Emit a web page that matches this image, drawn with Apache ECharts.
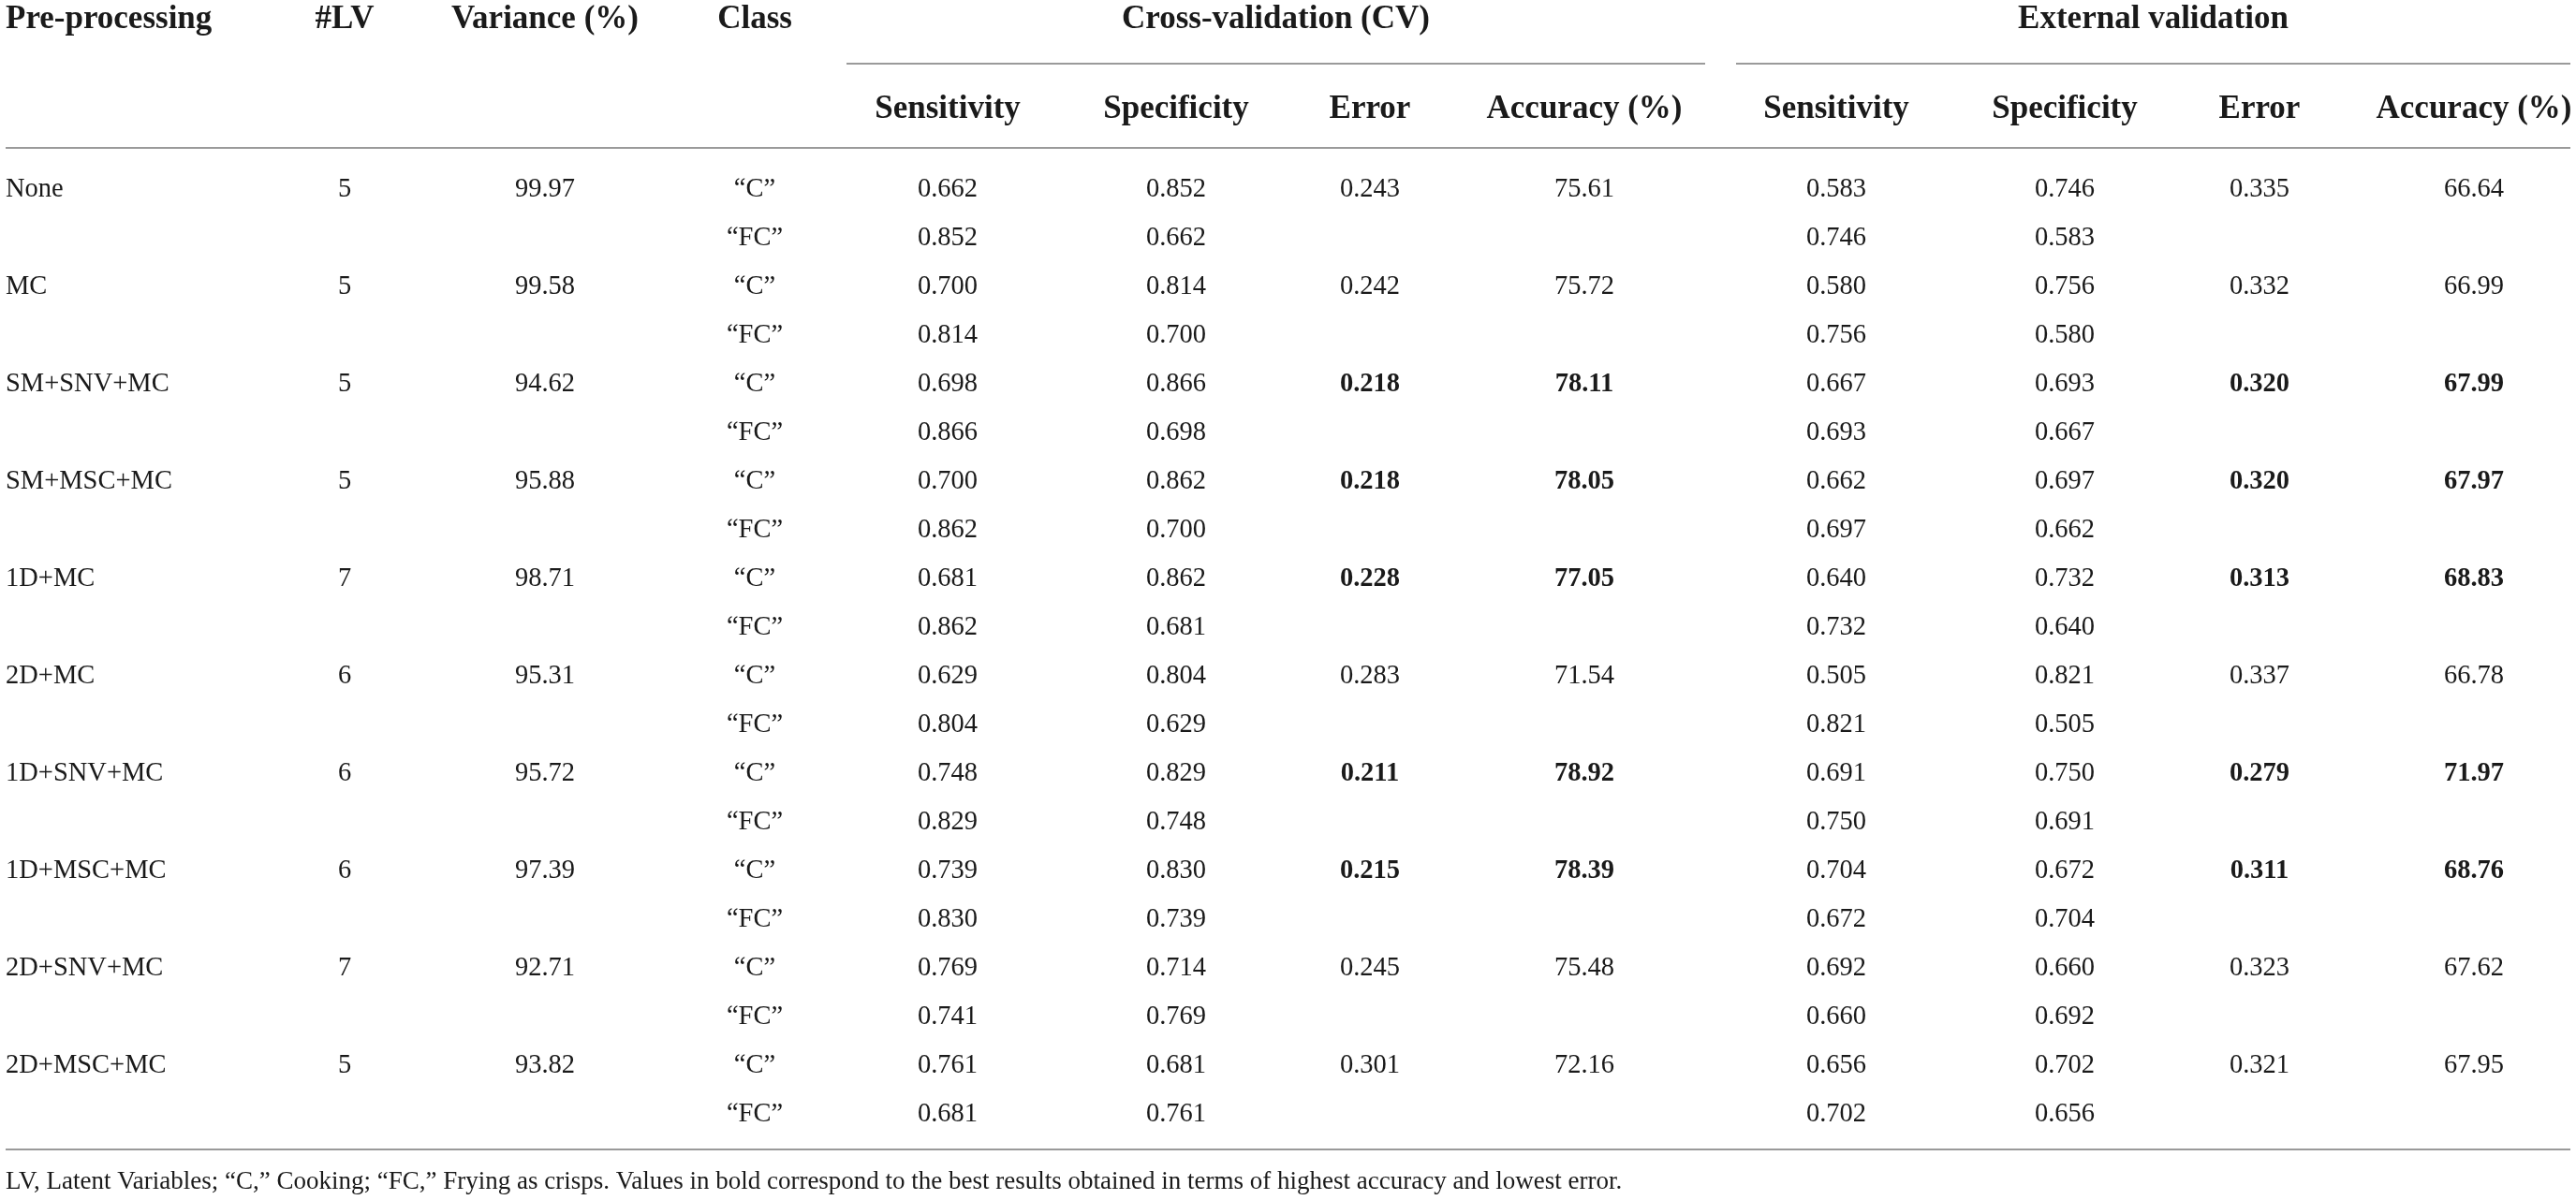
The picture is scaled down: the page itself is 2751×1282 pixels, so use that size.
<!DOCTYPE html>
<html>
<head>
<meta charset="utf-8">
<script src="https://cdn.jsdelivr.net/npm/echarts@6/dist/echarts.min.js"></script>
<style>
  html, body { margin: 0; padding: 0; background: #fff; }
  #table { width: 2751px; height: 1282px; }
</style>
</head>
<body>
<div id="table"></div>
<script>
// table values, one array per column
var preprocessing = ["None", "MC", "SM+SNV+MC", "SM+MSC+MC", "1D+MC", "2D+MC", "1D+SNV+MC", "1D+MSC+MC", "2D+SNV+MC", "2D+MSC+MC"];
var latentVars = [5, 5, 5, 5, 7, 6, 6, 6, 7, 5];
var variance = [99.97, 99.58, 94.62, 95.88, 98.71, 95.31, 95.72, 97.39, 92.71, 93.82];
var classes = ["\u201CC\u201D", "\u201CFC\u201D"];

var cvSensC = [0.662, 0.700, 0.698, 0.700, 0.681, 0.629, 0.748, 0.739, 0.769, 0.761];
var cvSpecC = [0.852, 0.814, 0.866, 0.862, 0.862, 0.804, 0.829, 0.830, 0.714, 0.681];
var cvSensFC = [0.852, 0.814, 0.866, 0.862, 0.862, 0.804, 0.829, 0.830, 0.741, 0.681];
var cvSpecFC = [0.662, 0.700, 0.698, 0.700, 0.681, 0.629, 0.748, 0.739, 0.769, 0.761];
var cvError = [0.243, 0.242, 0.218, 0.218, 0.228, 0.283, 0.211, 0.215, 0.245, 0.301];
var cvAccuracy = [75.61, 75.72, 78.11, 78.05, 77.05, 71.54, 78.92, 78.39, 75.48, 72.16];

var extSensC = [0.583, 0.580, 0.667, 0.662, 0.640, 0.505, 0.691, 0.704, 0.692, 0.656];
var extSpecC = [0.746, 0.756, 0.693, 0.697, 0.732, 0.821, 0.750, 0.672, 0.660, 0.702];
var extSensFC = [0.746, 0.756, 0.693, 0.697, 0.732, 0.821, 0.750, 0.672, 0.660, 0.702];
var extSpecFC = [0.583, 0.580, 0.667, 0.662, 0.640, 0.505, 0.691, 0.704, 0.692, 0.656];
var extError = [0.335, 0.332, 0.320, 0.320, 0.313, 0.337, 0.279, 0.311, 0.323, 0.321];
var extAccuracy = [66.64, 66.99, 67.99, 67.97, 68.83, 66.78, 71.97, 68.76, 67.62, 67.95];

// methods printed in bold (best error / accuracy)
var bestRows = [2, 3, 4, 6, 7];

var headerTop = ["Pre-processing", "#LV", "Variance (%)", "Class"];
var groupTitles = ["Cross-validation (CV)", "External validation"];
var subHeaders = ["Sensitivity", "Specificity", "Error", "Accuracy (%)"];
var footnote = "LV, Latent Variables; \u201CC,\u201D Cooking; \u201CFC,\u201D Frying as crisps. Values in bold correspond to the best results obtained in terms of highest accuracy and lowest error.";

// layout (pixels)
var W = 2751;
var colX = [6, 368, 582, 806, 1012, 1256, 1463, 1692, 1961, 2205, 2413, 2642];
var FONT = "'Liberation Serif', 'DejaVu Serif', serif";
var INK = "#1a1a1a";
var RULE = "#9a9a9a";
var dataSize = 28.5;
var noteSize = 27;
var headSize = 35;

var rowCount = preprocessing.length * 2;
var rowCats = [];
for (var r = 0; r < rowCount; r++) rowCats.push("r" + r);

function f3(v) { return v.toFixed(3); }
function f2(v) { return v.toFixed(2); }

// build cells: [columnIndex, rowIndex, text, bold]
var cells = [];
preprocessing.forEach(function (name, i) {
  var rc = i * 2, rf = i * 2 + 1;
  var bold = bestRows.indexOf(i) >= 0;
  cells.push([0, rc, name, false]);
  cells.push([1, rc, String(latentVars[i]), false]);
  cells.push([2, rc, f2(variance[i]), false]);
  cells.push([3, rc, classes[0], false]);
  cells.push([3, rf, classes[1], false]);
  cells.push([4, rc, f3(cvSensC[i]), false]);
  cells.push([5, rc, f3(cvSpecC[i]), false]);
  cells.push([4, rf, f3(cvSensFC[i]), false]);
  cells.push([5, rf, f3(cvSpecFC[i]), false]);
  cells.push([6, rc, f3(cvError[i]), bold]);
  cells.push([7, rc, f2(cvAccuracy[i]), bold]);
  cells.push([8, rc, f3(extSensC[i]), false]);
  cells.push([9, rc, f3(extSpecC[i]), false]);
  cells.push([8, rf, f3(extSensFC[i]), false]);
  cells.push([9, rf, f3(extSpecFC[i]), false]);
  cells.push([10, rc, f3(extError[i]), bold]);
  cells.push([11, rc, f2(extAccuracy[i]), bold]);
});

var seriesData = cells.map(function (c) { return [colX[c[0]], c[1]]; });

var chart = echarts.init(document.getElementById("table"));

var graphics = [];
function addText(txt, x, y, bold, size, align) {
  graphics.push({
    type: "text", x: x, y: y, silent: true,
    style: {
      text: txt, fill: INK, font: (bold ? "bold " : "") + size + "px " + FONT,
      textAlign: align || "center", textVerticalAlign: "middle"
    }
  });
}
function addRule(x1, x2, y) {
  graphics.push({
    type: "line", silent: true,
    shape: { x1: x1, y1: y, x2: x2, y2: y },
    style: { stroke: RULE, lineWidth: 2 }
  });
}

headerTop.forEach(function (h, i) {
  addText(h, colX[i], 21, true, headSize, i === 0 ? "left" : "center");
});
addText(groupTitles[0], (904 + 1821) / 2, 21, true, headSize);
addText(groupTitles[1], (1854 + 2745) / 2, 21, true, headSize);
subHeaders.forEach(function (h, i) {
  addText(h, colX[4 + i], 117, true, headSize);
  addText(h, colX[8 + i], 117, true, headSize);
});
addRule(904, 1821, 68);
addRule(1854, 2745, 68);
addRule(6, 2745, 158);
addRule(6, 2745, 1228);
addText(footnote, 6, 1263, false, noteSize, "left");

var option = {
  animation: false,
  backgroundColor: "#ffffff",
  grid: { left: 0, right: 0, top: 177, bottom: 65 },
  xAxis: { type: "value", min: 0, max: W, show: false },
  yAxis: { type: "category", data: rowCats, inverse: true, show: false },
  graphic: graphics,
  series: [{
    type: "custom",
    data: seriesData,
    encode: { x: 0, y: 1 },
    renderItem: function (params, api) {
      var cell = cells[params.dataIndex];
      var p = api.coord([api.value(0), api.value(1)]);
      return {
        type: "text",
        x: p[0], y: p[1],
        style: {
          text: cell[2],
          fill: INK,
          font: (cell[3] ? "bold " : "") + dataSize + "px " + FONT,
          textAlign: cell[0] === 0 ? "left" : "center",
          textVerticalAlign: "middle"
        }
      };
    }
  }]
};

chart.setOption(option);
</script>
</body>
</html>
